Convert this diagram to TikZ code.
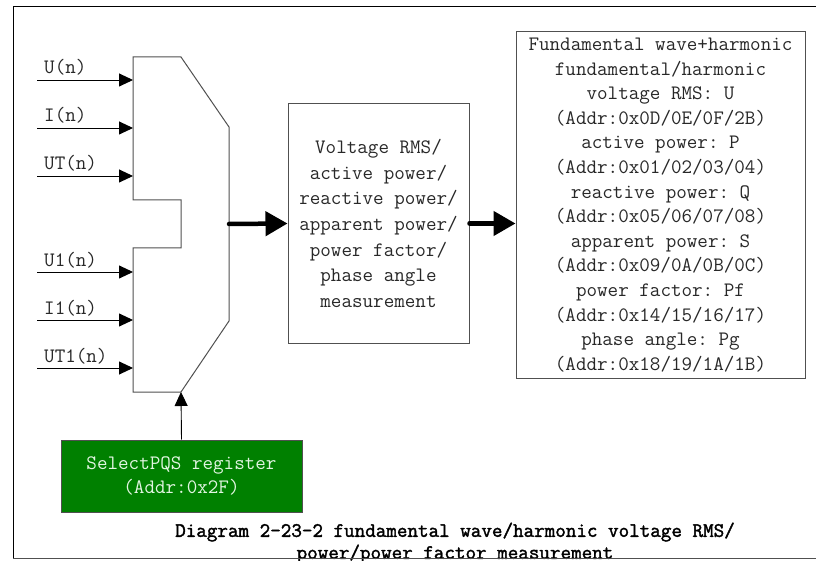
\documentclass[tikz,border=0pt]{standalone}
\usepackage{fontspec}
\setmonofont{Latin Modern Mono}
\newfontfamily\capfont[FakeBold=1.8]{Latin Modern Mono}
\usetikzlibrary{arrows.meta}
\definecolor{linegray}{RGB}{80,80,80}
\definecolor{txtgray}{RGB}{40,40,40}
\definecolor{boxgreen}{RGB}{0,128,0}
\definecolor{paletxt}{RGB}{225,245,225}
\begin{document}
\begin{tikzpicture}[x=1pt,y=-1pt,
  lbl/.style={anchor=base west,inner sep=0pt,text=txtgray,font=\ttfamily\fontsize{20.5}{24}\selectfont},
  inarrow/.style={draw=black,line width=0.9pt,-{Triangle[length=14pt,width=13pt]}},
  fatarrow/.style={draw=black,line width=4.5pt,line cap=round,-{Triangle[length=22pt,width=24pt]}},
  blockbox/.style={draw=linegray,line width=1pt,inner sep=0pt,align=center,text=txtgray},
  muxline/.style={draw=linegray,line width=1pt,line join=miter}
]
\useasboundingbox (0,0) rectangle (816,561);
\fill[white] (0,0) rectangle (816,561);

% multiplexer outline
\coordinate (m1) at (133,57);
\coordinate (m2) at (181,57);
\coordinate (m3) at (229,127);
\coordinate (m4) at (229,321);
\coordinate (m5) at (181,392);
\coordinate (m6) at (133,392);
\coordinate (m7) at (133,248);
\coordinate (m8) at (181,248);
\coordinate (m9) at (181,200);
\coordinate (m10) at (133,200);
\coordinate (mout) at (229,224);
\draw[muxline] (m1) -- (m2) -- (m3) -- (m4) -- (m5) -- (m6) -- (m7) -- (m8) -- (m9) -- (m10) -- cycle;

% inputs
\foreach \name/\txt/\yy in {iu/U(n)/80, ii/I(n)/128, iut/UT(n)/176, iuo/U1(n)/272, iio/I1(n)/320, iuto/UT1(n)/368}{
  \coordinate (\name s) at (37,\yy);
  \coordinate (\name e) at (133,\yy);
  \draw[inarrow] (\name s) -- (\name e);
  \node[lbl] (\name l) at (44,\yy-6) {\txt};
}

% middle box
\node[blockbox,minimum width=181pt,minimum height=239pt,font=\ttfamily\fontsize{20.5}{25.6}\selectfont] (mid) at (378.5,223.5)
  {Voltage RMS/\\active power/\\reactive power/\\apparent power/\\power factor/\\phase angle\\measurement};

% right box
\node[blockbox,minimum width=289pt,minimum height=346pt,font=\ttfamily\fontsize{20.5}{24.6}\selectfont] (res) at (660.5,205)
  {Fundamental wave+harmonic\\fundamental/harmonic\\voltage RMS: U\\(Addr:0x0D/0E/0F/2B)\\active power: P\\(Addr:0x01/02/03/04)\\reactive power: Q\\(Addr:0x05/06/07/08)\\apparent power: S\\(Addr:0x09/0A/0B/0C)\\power factor: Pf\\(Addr:0x14/15/16/17)\\phase angle: Pg\\(Addr:0x18/19/1A/1B)};

% green register box
\node[blockbox,fill=boxgreen,text=paletxt,minimum width=241pt,minimum height=72pt,font=\ttfamily\fontsize{20.5}{24}\selectfont] (sel) at (181.5,476)
  {SelectPQS register\\(Addr:0x2F)};

% connectors
\draw[fatarrow] (mout) -- (mid.west);
\draw[fatarrow] (mid.east) -- (mid.east -| res.west);
\draw[inarrow] (sel.north) -- (m5);

% caption
\node[inner sep=0pt,align=center,text=black,font=\capfont\fontsize{20.5}{22}\selectfont] (cap) at (455,543)
  {Diagram 2-23-2 fundamental wave/harmonic voltage RMS/\\power/power factor measurement};

% outer frame
\coordinate (ftr) at (816,7);
\coordinate (ftl) at (13,7);
\coordinate (fbl) at (13,558.5);
\coordinate (fbr) at (816,558.5);
\draw[black,line width=1pt] (ftr) -- (ftl) -- (fbl);
\draw[linegray,line width=1.8pt] (fbl) -- (fbr);
\end{tikzpicture}
\end{document}
